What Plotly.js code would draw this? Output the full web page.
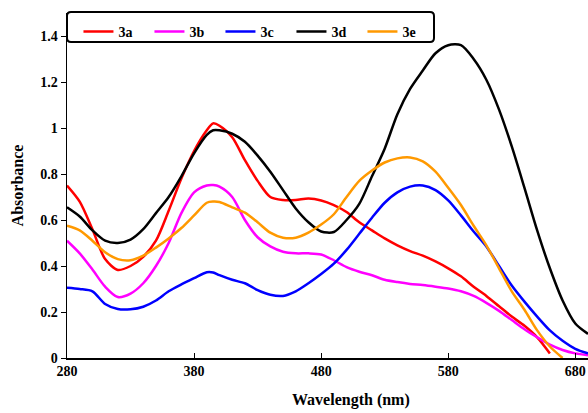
<!DOCTYPE html>
<html><head><meta charset="utf-8">
<script src="https://cdn.plot.ly/plotly-3.0.1.min.js"></script>
<style>html,body{margin:0;padding:0;background:#fff}#chart{width:588px;height:413px}</style>
</head><body><div id="chart"></div>
<script>
const wavelength = [280,290,300,310,320,330,340,350,360,370,380,390,395,400,410,420,430,440,450,460,470,480,490,500,510,520,530,540,550,560,570,580,590,600,610,620,630,640,650,660,670,680,690];
const s3a = [0.75,0.68,0.56,0.43,0.383,0.40,0.44,0.51,0.64,0.78,0.90,0.99,1.02,1.01,0.96,0.86,0.77,0.70,0.687,0.687,0.693,0.685,0.665,0.635,0.59,0.555,0.52,0.49,0.465,0.445,0.42,0.39,0.355,0.31,0.27,0.225,0.18,0.14,0.09,0.02,null,null,null];
const s3b = [0.51,0.455,0.385,0.31,0.265,0.28,0.325,0.40,0.50,0.63,0.72,0.75,0.752,0.745,0.70,0.60,0.525,0.485,0.462,0.455,0.455,0.45,0.425,0.395,0.375,0.36,0.34,0.33,0.322,0.317,0.31,0.302,0.29,0.27,0.24,0.205,0.165,0.125,0.09,0.058,0.035,0.02,0.012];
const s3c = [0.305,0.30,0.29,0.235,0.213,0.212,0.223,0.25,0.29,0.32,0.347,0.373,0.372,0.36,0.34,0.325,0.295,0.275,0.27,0.29,0.325,0.365,0.41,0.47,0.54,0.61,0.675,0.72,0.745,0.75,0.73,0.685,0.62,0.55,0.485,0.40,0.315,0.245,0.18,0.12,0.075,0.04,0.02];
const s3d = [0.655,0.615,0.555,0.51,0.50,0.515,0.56,0.63,0.70,0.79,0.89,0.97,0.99,0.99,0.975,0.94,0.88,0.81,0.73,0.65,0.59,0.55,0.548,0.60,0.67,0.79,0.91,1.06,1.17,1.25,1.325,1.36,1.36,1.30,1.21,1.08,0.92,0.74,0.555,0.39,0.25,0.15,0.105];
const s3e = [0.575,0.555,0.51,0.46,0.43,0.425,0.445,0.48,0.52,0.565,0.62,0.675,0.68,0.678,0.655,0.632,0.59,0.545,0.523,0.523,0.545,0.58,0.625,0.70,0.77,0.815,0.85,0.868,0.872,0.855,0.81,0.74,0.665,0.575,0.49,0.39,0.29,0.21,0.12,0.05,0.0,null,null];
const names = ['3a','3b','3c','3d','3e'];
const colors = ['#ff0000','#ff00ff','#0000ff','#000000','#ff9900'];
const series = [s3a,s3b,s3c,s3d,s3e];
const yTicks = [0,0.2,0.4,0.6,0.8,1,1.2,1.4];
const xTicks = [280,380,480,580,680];

const fam = '"Liberation Serif","Times New Roman",serif';
const traces = series.map((s,i)=>({
  x: wavelength, y: s, name: names[i], type:'scatter', mode:'lines',
  line:{color:colors[i], width:2.5, shape:'spline', smoothing:0.8},
  connectgaps:false
}));

const r = 4, W = 521, H = 345;
const x0 = 0, x1 = (434-67)/W, y0 = (358-42)/H, y1 = (358-12)/H;
const rx = r/W, ry = r/H;
const path = `M ${x0+rx} ${y1} L ${x1-rx} ${y1} Q ${x1} ${y1} ${x1} ${y1-ry} L ${x1} ${y0+ry} Q ${x1} ${y0} ${x1-rx} ${y0} L ${x0+rx} ${y0} Q ${x0} ${y0} ${x0} ${y0+ry} L ${x0} ${y1-ry} Q ${x0} ${y1} ${x0+rx} ${y1} Z`;

const layout = {
  width:588, height:413,
  margin:{l:67, r:0, t:13, b:55},
  paper_bgcolor:'#fff', plot_bgcolor:'#fff',
  font: {family:fam, size:13, color:'#000', weight:'bold'},
  showlegend:true,
  legend:{orientation:'h', x:0.022, xanchor:'left', y:(358-32)/H, yanchor:'middle',
    bgcolor:'rgba(0,0,0,0)', borderwidth:0, entrywidth:26, entrywidthmode:'pixels',
    font:{family:fam, size:14, color:'#000', weight:'bold'}, tracegroupgap:0},
  xaxis:{range:[280,690], tickvals:xTicks, ticktext:xTicks.map(String), ticks:'inside', ticklen:5, tickwidth:1,
    tickcolor:'#000', showline:true, linecolor:'#000', linewidth:1.5, showgrid:false, zeroline:false,
    tickfont:{family:fam, size:14, color:'#000', weight:'bold'}},
  yaxis:{range:[0,1.5], tickvals:yTicks, ticktext:yTicks.map(String), ticks:'outside', ticklen:5, tickwidth:1,
    tickcolor:'#000', showline:true, linecolor:'#000', linewidth:1.5, showgrid:false, zeroline:false,
    tickfont:{family:fam, size:14, color:'#000', weight:'bold'},
    title:{text:'Absorbance', font:{family:fam, size:16, color:'#000', weight:'bold'}, standoff:12}},
  annotations:[{text:'Wavelength (nm)', xref:'paper', yref:'paper', x:(351-67)/W, y:-(400-358)/H,
    xanchor:'center', yanchor:'middle', showarrow:false,
    font:{family:fam, size:16, color:'#000', weight:'bold'}}],
  shapes:[{type:'path', xref:'paper', yref:'paper', path:path, line:{color:'#000', width:2}, fillcolor:'rgba(0,0,0,0)', layer:'above'}]
};
Plotly.newPlot('chart', traces, layout, {staticPlot:true, displayModeBar:false});
</script></body></html>
